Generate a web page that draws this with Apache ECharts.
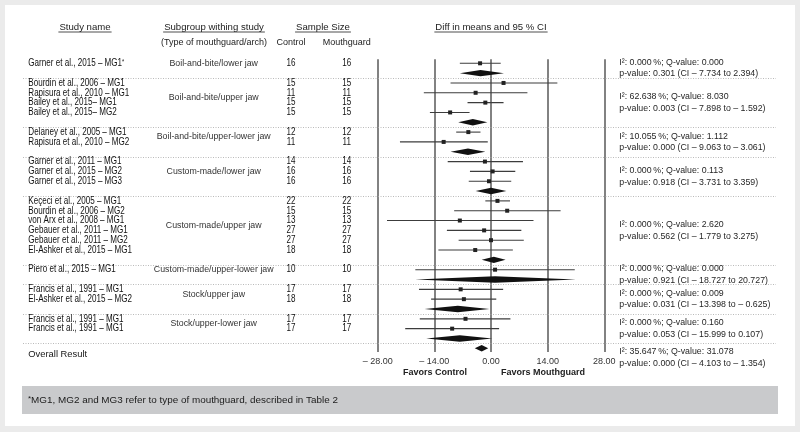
<!DOCTYPE html>
<html><head><meta charset="utf-8">
<script src="https://cdn.jsdelivr.net/npm/echarts@6/dist/echarts.min.js"></script>
<style>html,body{margin:0;padding:0;background:#ebebeb}#c{width:800px;height:432px}</style>
</head><body><div id="c"></div>
<script>
// ---------------- DATA ----------------
const studyNames = [
  'Garner et al., 2015 – MG1*',
  'Bourdin et al., 2006 – MG1','Rapisura et al., 2010 – MG1','Bailey et al., 2015– MG1','Bailey et al., 2015– MG2',
  'Delaney et al., 2005 – MG1','Rapisura et al., 2010 – MG2',
  'Garner et al., 2011 – MG1','Garner et al., 2015 – MG2','Garner et al., 2015 – MG3',
  'Keçeci et al., 2005 – MG1','Bourdin et al., 2006 – MG2','von Arx et al., 2008 – MG1','Gebauer et al., 2011 – MG1','Gebauer et al., 2011 – MG2','El-Ashker et al., 2015 – MG1',
  'Piero et al., 2015 – MG1',
  'Francis et al., 1991 – MG1','El-Ashker et al., 2015 – MG2',
  'Francis et al., 1991 – MG1','Francis et al., 1991 – MG1'
];
const studyGroup   = [0,1,1,1,1,2,2,3,3,3,4,4,4,4,4,4,5,6,6,7,7];
const controlN     = [16,15,11,15,15,12,11,14,16,16,22,15,13,27,27,18,10,17,18,17,17];
const mouthguardN  = [16,15,11,15,15,12,11,14,16,16,22,15,13,27,27,18,10,17,18,17,17];
const studyMean    = [-2.7, 3.1,-3.8,-1.4,-10.1,-5.6,-11.7,-1.5, 0.4,-0.5, 1.6, 4.0,-7.7,-1.7, 0.0,-3.9, 1.0,-7.5,-6.7,-6.3,-9.6];
const studyLow     = [-7.7,-10.0,-16.6,-5.8,-15.1,-8.6,-22.5,-10.7,-5.2,-5.5,-1.4,-9.1,-25.7,-10.9,-8.0,-13.0,-18.7,-17.8,-14.8,-17.6,-21.2];
const studyHigh    = [ 2.4,16.4, 9.0, 3.1,-5.3,-2.6,-0.8, 7.9, 6.0, 5.0, 4.7,17.2,10.5, 7.5, 8.1, 5.4,20.7, 3.0, 1.3, 4.8, 2.0];

const subgroupNames = ['Boil-and-bite/lower jaw','Boil-and-bite/upper jaw','Boil-and-bite/upper-lower jaw','Custom-made/lower jaw',
  'Custom-made/upper jaw','Custom-made/upper-lower jaw','Stock/upper jaw','Stock/upper-lower jaw'];
const subgroupLow  = [-7.7,-8.1,-10.0,-3.8,-2.3,-18.7,-16.4,-16.0];
const subgroupMid  = [-2.6,-4.5,-5.7, 0.0, 0.7,  1.0, -8.2, -7.7];
const subgroupHigh = [ 3.2,-0.9,-1.4, 3.8, 3.6, 21.0, -0.4,  0.3];
const subgroupI2   = ['0.000','62.638','10.055','0.000','0.000','0.000','0.000','0.000'];
const subgroupQ    = ['0.000','8.030','1.112','0.113','2.620','0.000','0.009','0.160'];
const subgroupP    = ['0.301','0.003','0.000','0.918','0.562','0.921','0.031','0.053'];
const subgroupCI   = ['– 7.734 to 2.394','– 7.898 to – 1.592','– 9.063 to – 3.061','– 3.731 to 3.359',
  '– 1.779 to 3.275','– 18.727 to 20.727','– 13.398 to – 0.625','– 15.999 to 0.107'];
const overallEffect = [-4.0, -2.3, -0.7];   // low, mid, high
const overallStats  = {i2:'35.647', q:'31.078', p:'0.000', ci:'– 4.103 to – 1.354'};
const xTicks = [-28, -14, 0, 14, 28];

// ---------------- LAYOUT ----------------
const SANS = "'Liberation Sans',Arial,sans-serif";
const SLOT = 4.914, Y0 = 63.3;           // px per half-row, first row centre
const studySlot = [], diamondSlot = [], sepSlots = [], labelSlot = [], statSlot = [];
let s = 0;
subgroupNames.forEach((g, gi) => {
  const first = s;
  studyGroup.forEach((sg, i) => { if (sg === gi) { studySlot[i] = s; s += 2; } });
  labelSlot[gi] = (first + s - 2) / 2;
  diamondSlot[gi] = s;
  statSlot[gi] = (first + s) / 2;
  s += 1; sepSlots.push(s); s += 1;
});
const overallSlot = s;

const chart = echarts.init(document.getElementById('c'), null, {width:800, height:432});

// text column drawn through the layout grid's axes (custom series so glyphs can be condensed)
function textSeries(xPos, slots, texts, st) {
  return {
    type:'custom', xAxisIndex:0, yAxisIndex:0, silent:true, clip:false, z:5,
    data: slots.map(v => [xPos, v]),
    encode:{x:0, y:1},
    renderItem:(p, api) => {
      const c = api.coord([api.value(0), api.value(1)]);
      return {type:'text', x:c[0], y:c[1], scaleX:st.scaleX || 1,
        style:Object.assign({text:texts[p.dataIndex], verticalAlign:'middle', fill:'#1b1b1b',
          font:(st.size || 9) + 'px ' + SANS}, st.style)};
    }
  };
}
const xMin = xTicks[0], xMax = xTicks[xTicks.length-1];
const fmtTick = v => v < 0 ? '– ' + Math.abs(v).toFixed(2) : v.toFixed(2);

// measure for underlines
const mctx = document.createElement('canvas').getContext('2d');
function tw(t, font){ mctx.font = font; return mctx.measureText(t).width; }
const HFONT = '9.6px ' + SANS;
const headers = [['Study name', 85], ['Subgroup withing study', 214], ['Sample Size', 323], ['Diff in means and 95 % CI', 491]];
const graphics = [
  {type:'rect', shape:{x:5, y:5, width:790, height:421}, style:{fill:'#ffffff'}, z:-10, silent:true},
  {type:'rect', shape:{x:22, y:386, width:756, height:28}, style:{fill:'#c9cacc'}, z:-5, silent:true},
  {type:'text', x:28, y:400, style:{text:'{s|*}{t|MG1, MG2 and MG3 refer to type of mouthguard, described in Table 2}',
     rich:{s:{fontSize:8, verticalAlign:'top', fontFamily:SANS, fill:'#1b1b1b'}, t:{fontSize:9.9, fontFamily:SANS, fill:'#1b1b1b'}},
     verticalAlign:'middle'}},
  {type:'text', x:435, y:373, style:{text:'Favors Control', font:'bold 9px ' + SANS, fill:'#222', align:'center', verticalAlign:'middle'}},
  {type:'text', x:543, y:373, style:{text:'Favors Mouthguard', font:'bold 9px ' + SANS, fill:'#222', align:'center', verticalAlign:'middle'}},
  {type:'text', x:214, y:43, style:{text:'(Type of mouthguard/arch)', font:'9px ' + SANS, fill:'#222', align:'center', verticalAlign:'middle'}},
  {type:'text', x:291, y:43, style:{text:'Control', font:'9px ' + SANS, fill:'#222', align:'center', verticalAlign:'middle'}},
  {type:'text', x:346.7, y:43, style:{text:'Mouthguard', font:'9px ' + SANS, fill:'#222', align:'center', verticalAlign:'middle'}}
];
headers.forEach(([t, cx]) => {
  graphics.push({type:'text', x:cx, y:27.5, style:{text:t, font:HFONT, fill:'#222', align:'center', verticalAlign:'middle'}});
  const w = tw(t, HFONT) + 2;
  graphics.push({type:'line', shape:{x1:cx - w/2, y1:32, x2:cx + w/2, y2:32}, style:{stroke:'#222', lineWidth:0.8}});
});

const nameTexts = studyNames.map(n => n.endsWith('*') ? '{n|' + n.slice(0,-1) + '}{s|*}' : '{n|' + n + '}');
const statTexts = subgroupNames.map((n,gi) => 'I²: ' + subgroupI2[gi] + '\u2009%; Q-value: ' + subgroupQ[gi] +
    '\np-value: ' + subgroupP[gi] + ' (CI ' + subgroupCI[gi] + ')')
  .concat(['I²: ' + overallStats.i2 + '\u2009%; Q-value: ' + overallStats.q + '\np-value: ' + overallStats.p + ' (CI ' + overallStats.ci + ')']);

const option = {
  animation:false,
  backgroundColor:'#ebebeb',
  grid:[
    {left:0, right:0, top:Y0 - 10*SLOT, height:85*SLOT, outerBoundsMode:'none', containLabel:false},
    {left:377.7, width:226.6, top:59.3, height:352 - 59.3, outerBoundsMode:'none', containLabel:false}
  ],
  xAxis:[
    {gridIndex:0, type:'value', min:0, max:800, show:false},
    {gridIndex:1, type:'value', min:xMin, max:xMax, interval:14,
     axisLine:{show:false}, axisTick:{show:false},
     axisLabel:{margin:5, fontSize:9, fontFamily:SANS, color:'#333', formatter:fmtTick},
     splitLine:{show:true, lineStyle:{color:'#585858', width:1.5}}}
  ],
  yAxis:[
    {gridIndex:0, type:'value', inverse:true, min:-10, max:75, show:false},
    {gridIndex:1, type:'value', inverse:true, min:(59.3 - Y0)/SLOT, max:(352 - Y0)/SLOT, show:false}
  ],
  graphic: graphics,
  series:[
    { // dotted separators
      type:'custom', xAxisIndex:0, yAxisIndex:0, silent:true, clip:false, z:1,
      data: sepSlots.map(v => [23, v, 776]),
      encode:{x:[0,2], y:1},
      renderItem:(p, api) => {
        const a = api.coord([api.value(0), api.value(1)]), b = api.coord([api.value(2), api.value(1)]);
        return {type:'line', shape:{x1:a[0], y1:Math.round(a[1])+0.5, x2:b[0], y2:Math.round(b[1])+0.5},
          style:{stroke:'#a8a8a8', lineWidth:0.8, lineDash:[1,1.5]}};
      }
    },
    textSeries(28.3, studySlot, nameTexts, {scaleX:0.8, style:{align:'left',
      rich:{n:{fontFamily:SANS, fontSize:10.1, fill:'#111'},
            s:{fontFamily:SANS, fontSize:7, verticalAlign:'top', fill:'#111'}}}}),
    textSeries(28.3, [overallSlot + 1.2], ['Overall Result'], {size:9.4, style:{align:'left', fill:'#161616'}}),
    textSeries(213.7, labelSlot, subgroupNames, {size:8.8, style:{align:'center', fill:'#333'}}),
    textSeries(291, studySlot, controlN.map(String), {size:10.1, scaleX:0.8, style:{align:'center', fill:'#111'}}),
    textSeries(346.7, studySlot, mouthguardN.map(String), {size:10.1, scaleX:0.8, style:{align:'center', fill:'#111'}}),
    textSeries(619.3, statSlot.concat([overallSlot + 1.9]), statTexts, {size:8.8, style:{align:'left', lineHeight:11.5, fill:'#262626'}}),
    { // study CIs and point estimates
      type:'custom', xAxisIndex:1, yAxisIndex:1, silent:true, clip:false, z:4,
      data: studyMean.map((m,i) => [studyLow[i], m, studyHigh[i], studySlot[i]]),
      encode:{x:[0,1,2], y:3},
      renderItem:(p, api) => {
        const y = api.value(3);
        const a = api.coord([api.value(0), y]), b = api.coord([api.value(2), y]), m = api.coord([api.value(1), y]);
        return {type:'group', children:[
          {type:'line', shape:{x1:a[0], y1:a[1], x2:b[0], y2:b[1]}, style:{stroke:'#3c3c3c', lineWidth:1.1}},
          {type:'rect', shape:{x:m[0]-2, y:m[1]-2, width:4, height:4}, style:{fill:'#222'}}
        ]};
      }
    },
    { // subgroup and overall diamonds
      type:'custom', xAxisIndex:1, yAxisIndex:1, silent:true, clip:false, z:4,
      data: subgroupMid.map((m,gi) => [subgroupLow[gi], m, subgroupHigh[gi], diamondSlot[gi]])
        .concat([[overallEffect[0], overallEffect[1], overallEffect[2], overallSlot]]),
      encode:{x:[0,1,2], y:3},
      renderItem:(p, api) => {
        const y = api.value(3);
        const a = api.coord([api.value(0), y]), b = api.coord([api.value(2), y]), m = api.coord([api.value(1), y]);
        const h = 3.2;
        return {type:'polygon', shape:{points:[[a[0], a[1]], [m[0], m[1]-h], [b[0], b[1]], [m[0], m[1]+h]]},
          style:{fill:'#111'}};
      }
    }
  ]
};
chart.setOption(option);
</script>
</body></html>
